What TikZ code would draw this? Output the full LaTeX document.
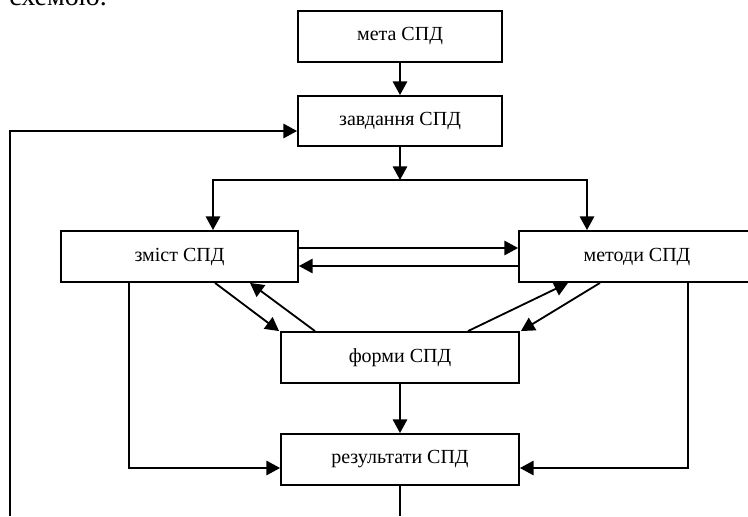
\documentclass[tikz,border=0pt]{standalone}
\usepackage{fontspec}
\setmainfont{Liberation Serif}
\usetikzlibrary{arrows.meta,calc}
\tikzset{
  box/.style={draw, line width=1.1pt, rectangle, inner sep=0pt, minimum height=30.6pt, font=\fontsize{12}{14}\selectfont},
  arr/.style={line width=1.1pt, -{Triangle[length=8.2pt,width=8.6pt]}},
  ln/.style={line width=1.1pt}
}
\begin{document}
\begin{tikzpicture}[x=0.6pt,y=-0.6pt]
\clip (0,0) rectangle (748,516);
\node[anchor=base west, inner sep=0pt, font=\fontsize{16.8}{18}\selectfont] (cap) at (9,5) {схемою.};
\node[box, minimum width=122.4pt] (meta) at (400,36.5) {мета СПД};
\node[box, minimum width=122.4pt, minimum height=30pt] (zav) at (400,121) {завдання СПД};
\node[box, minimum width=142.2pt] (zmist) at (179.5,256.5) {зміст СПД};
\node[box, minimum width=141.6pt] (met) at (637,256.5) {методи СПД};
\node[box, minimum width=142.8pt] (form) at (400,357.5) {форми СПД};
\node[box, minimum width=142.8pt] (res) at (400,459.5) {результати СПД};
\coordinate (jm) at (400,180);
\coordinate (jl) at (213,180);
\coordinate (jr) at (587,180);
\coordinate (fbl) at (10,516);
\coordinate (fbb) at (400,516);
% top chain
\draw[arr] (meta) -- (zav);
\draw[arr] (zav) -- (jm);
\draw[arr] (jm) -- (jl) -- (jl |- zmist.north);
\draw[arr] (jm) -- (jr) -- (jr |- met.north);
% feedback
\draw[arr] (fbl) |- ($(zav.west)+(0,10)$);
\draw[ln] (res.south) -- (fbb);
% horizontal pair
\draw[arr] ($(zmist.east)+(0,-8.5)$) -- ($(met.west)+(0,-8.5)$);
\draw[arr] ($(met.west)+(0,9.5)$) -- ($(zmist.east)+(0,9.5)$);
% diagonals
\draw[arr] ($(zmist.south)+(35.5,0)$) -- ($(form.north west)+(-1,0)$);
\draw[arr] ($(form.north)+(-85,0)$) -- ($(zmist.south)+(70.5,0)$);
\draw[arr] ($(form.north)+(68,0)$) -- ($(met.south)+(-69,0)$);
\draw[arr] ($(met.south)+(-37,0)$) -- ($(form.north east)+(1,0)$);
% down
\draw[arr] (form) -- (res);
\draw[arr] ($(zmist.south)+(-50.5,0)$) |- ($(res.west)+(0,8.5)$);
\draw[arr] ($(met.south)+(51,0)$) |- ($(res.east)+(0,8.5)$);
\end{tikzpicture}
\end{document}
